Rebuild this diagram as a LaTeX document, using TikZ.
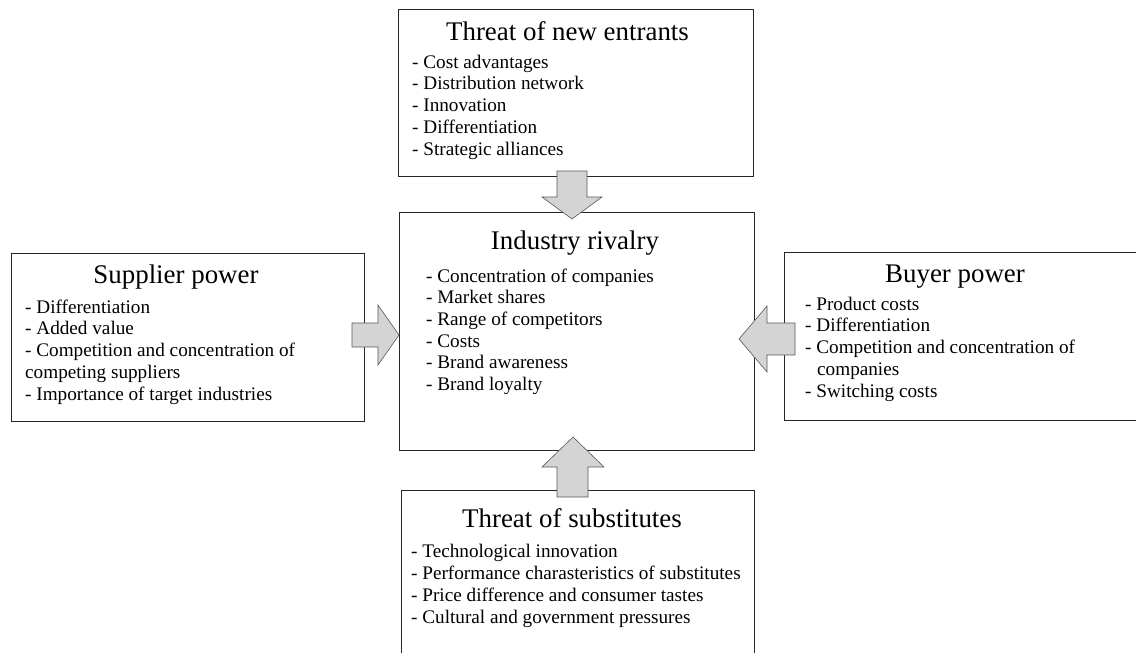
\documentclass[tikz,border=0pt]{standalone}
\usepackage{fontspec}
\setmainfont{Liberation Serif}
\begin{document}
\begin{tikzpicture}[x=1pt,y=-1pt,
  box/.style={draw=black!85,line width=0.8pt,fill=white},
  ttl/.style={inner sep=0pt,anchor=base,font=\fontsize{26.9}{30}\selectfont},
  items/.style={inner sep=0pt,anchor=base west,align=left,font=\fontsize{19.2}{21.7}\selectfont},
  blockarrow/.style={draw=black!65,line width=0.6pt,fill=black!17,line join=miter}]
\useasboundingbox (0,0) rectangle (1136,653);
% boxes
\draw[box] (398,9) rectangle (753,176);
\node (top) at (575.5,92.5) {};
\draw[box] (399,212) rectangle (754,450);
\node (mid) at (576.5,331) {};
\draw[box] (11,253) rectangle (364,421);
\node (left) at (187.5,337) {};
\draw[box] (784,252) rectangle (1140,420);
\node (right) at (960,336) {};
\draw[box] (401,490) rectangle (754,660);
\node (bottom) at (577.5,575) {};
% texts (items anchored at the baseline of their last line)
\node[ttl] (topT) at (567.5,40) {Threat of new entrants};
\node[items] (topI) at (412,155) {- Cost advantages\\- Distribution network\\- Innovation\\- Differentiation\\- Strategic alliances};
\node[ttl] (midT) at (575,249) {Industry rivalry};
\node[items] (midI) at (426,390.5) {- Concentration of companies\\- Market shares\\- Range of competitors\\- Costs\\- Brand awareness\\- Brand loyalty};
\node[ttl] (leftT) at (176,283) {Supplier power};
\node[items] (leftI) at (25,400) {- Differentiation\\- Added value\\- Competition and concentration of\\competing suppliers\\- Importance of target industries};
\node[ttl] (rightT) at (955,282) {Buyer power};
\node[items] (rightI) at (805,397) {- Product costs\\- Differentiation\\- Competition and concentration of\\\hspace*{12pt}companies\\- Switching costs};
\node[ttl] (bottomT) at (572,527) {Threat of substitutes};
\node[items] (bottomI) at (411,623) {- Technological innovation\\- Performance charasteristics of substitutes\\- Price difference and consumer tastes\\- Cultural and government pressures};
% block arrows
\draw[blockarrow] (557,171) -- (587,171) -- (587,197) -- (602,197) -- (572,219) -- (542,197) -- (557,197) -- cycle;
\draw[blockarrow] (352,323) -- (378,323) -- (378,305) -- (399,335) -- (378,365) -- (378,347) -- (352,347) -- cycle;
\draw[blockarrow] (795,323) -- (767,323) -- (767,306) -- (739,339) -- (767,372) -- (767,355) -- (795,355) -- cycle;
\draw[blockarrow] (557,497) -- (588,497) -- (588,467) -- (604,467) -- (573,437) -- (542,467) -- (557,467) -- cycle;
\end{tikzpicture}
\end{document}
